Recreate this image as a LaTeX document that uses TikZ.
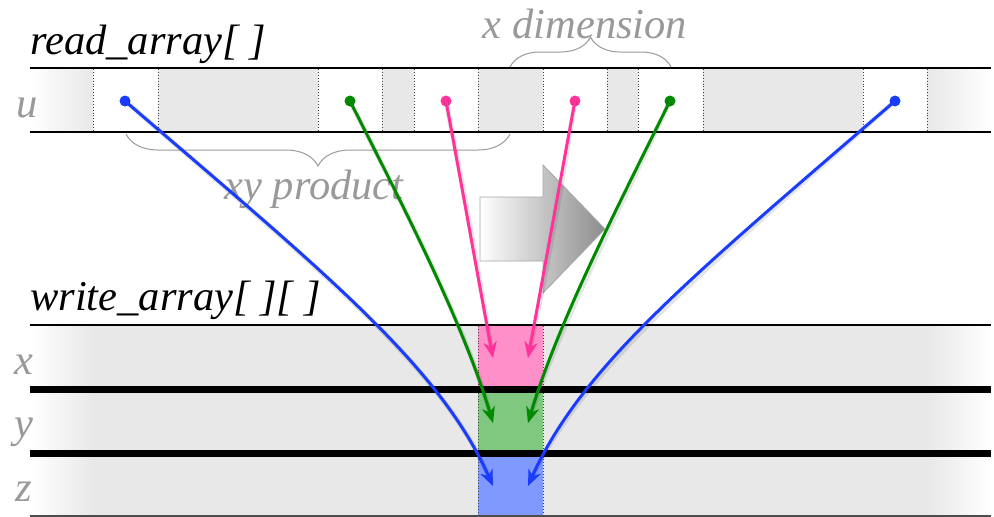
\documentclass[tikz,border=0pt]{standalone}
\usepackage{fontspec}
\setmainfont{Liberation Serif}
\usetikzlibrary{arrows.meta,decorations.pathreplacing}
\definecolor{cellgray}{HTML}{E8E8E8}
\definecolor{labelgray}{HTML}{999999}
\definecolor{cblue}{HTML}{1A3CFF}
\definecolor{cgreen}{HTML}{008A00}
\definecolor{cpink}{HTML}{FF3399}
\definecolor{fillpink}{HTML}{FF8FC8}
\definecolor{fillgreen}{HTML}{80C880}
\definecolor{fillblue}{HTML}{8099FF}
\tikzset{
  bigtitle/.style={font=\fontsize{42.5}{46}\selectfont\itshape, text=black, inner sep=0pt, anchor=base west},
  graylabel/.style={font=\fontsize{42.5}{46}\selectfont\itshape, text=labelgray, inner sep=0pt, anchor=base},
  barline/.style={line width=2.5pt, black},
  thickbar/.style={line width=7pt, black},
  celldiv/.style={dotted, line width=0.9pt, black!75},
  dotnode/.style={circle, inner sep=0pt, minimum size=11pt, fill=#1},
  flow/.style={line width=3pt, draw=#1, -{Stealth[length=16pt,width=13pt,inset=5pt]}},
  flowshadow/.style={line width=5pt, draw=black, opacity=0.10, shift={(2pt,-3pt)}, -{Stealth[length=16pt,width=13pt,inset=5pt]}},
  bracestyle/.style={draw=labelgray, line width=1pt, decorate, decoration={brace, amplitude=#1}},
}
\begin{document}
\begin{tikzpicture}[x=1pt,y=-1pt]
\useasboundingbox (0,0) rectangle (994,517);

% ---------- top array ----------
\fill[cellgray] (30,68) rectangle (991,132);
\shade[left color=white, right color=cellgray] (30,68) rectangle (93,132);
\shade[left color=cellgray, right color=white] (927,68) rectangle (991,132);
\foreach \a/\b in {93/158, 318/382, 414/478, 543/607, 638/703, 863/927}
  \fill[white] (\a,68) rectangle (\b,132);
\foreach \x in {93,158,318,382,414,478,543,607,638,703,863,927}
  \draw[celldiv] (\x,69) -- (\x,131);
\draw[barline] (30,68) -- (991,68);
\draw[barline] (30,132) -- (991,132);

% ---------- bottom array ----------
\fill[cellgray] (30,325) rectangle (991,516);
\shade[left color=white, right color=cellgray] (30,325) rectangle (93,516);
\shade[left color=cellgray, right color=white] (927,325) rectangle (991,516);
\fill[fillpink] (478,325) rectangle (543,389);
\fill[fillgreen] (478,389) rectangle (543,453);
\fill[fillblue] (478,453) rectangle (543,516);
\draw[celldiv] (478,326) -- (478,516);
\draw[celldiv] (543,326) -- (543,516);
\draw[barline] (30,325) -- (991,325);
\draw[thickbar] (30,389) -- (991,389);
\draw[thickbar] (30,453) -- (991,453);
\draw[line width=1.5pt, black!70] (30,516) -- (991,516);

% ---------- big arrow ----------
\shade[left color=white, right color=black!45, draw=black!35, line width=0.8pt]
  (480,197) -- (543,197) -- (543,165) -- (605,229) -- (543,293) -- (543,261) -- (480,261) -- cycle;

% ---------- braces ----------
\draw[bracestyle=30pt] (510,67) -- (671,67);
\draw[bracestyle=32pt] (510,134) -- (126,134);

% ---------- texts ----------
\node[bigtitle] (readt) at (30,54) {read\_array[ ]};
\node[bigtitle] (writet) at (30,310) {write\_array[ ][ ]};
\node[graylabel] (xdim) at (585,38) {x dimension};
\node[graylabel] (xyp) at (314,199) {xy product};
\node[graylabel] (lu) at (27,117) {u};
\node[graylabel] (lx) at (24,374) {x};
\node[graylabel] (ly) at (24,437) {y};
\node[graylabel] (lz) at (24,501) {z};

% ---------- dots and targets ----------
\node[dotnode=cblue] (bL) at (125,101) {};
\node[dotnode=cgreen] (gL) at (350,101) {};
\node[dotnode=cpink] (pL) at (446,101) {};
\node[dotnode=cpink] (pR) at (575,101) {};
\node[dotnode=cgreen] (gR) at (670,101) {};
\node[dotnode=cblue] (bR) at (895,101) {};
\coordinate (tp1) at (493,358);
\coordinate (tp2) at (528,358);
\coordinate (tg1) at (493,423);
\coordinate (tg2) at (528,423);
\coordinate (tb1) at (493,486);
\coordinate (tb2) at (528,486);

% ---------- flow shadows ----------
\draw[flowshadow] (bL.center) .. controls (325,273) and (439,365) .. (tb1);
\draw[flowshadow] (gL.center) .. controls (404,208) and (463,322) .. (tg1);
\draw[flowshadow] (pL.center) .. controls (462,187) and (477,272) .. (tp1);
\draw[flowshadow] (pR.center) .. controls (559,187) and (544,272) .. (tp2);
\draw[flowshadow] (gR.center) .. controls (617,208) and (558,322) .. (tg2);
\draw[flowshadow] (bR.center) .. controls (696,273) and (582,365) .. (tb2);

% ---------- flows ----------
\draw[flow=cblue] (bL.center) .. controls (325,273) and (439,365) .. (tb1);
\draw[flow=cgreen] (gL.center) .. controls (404,208) and (463,322) .. (tg1);
\draw[flow=cpink] (pL.center) .. controls (462,187) and (477,272) .. (tp1);
\draw[flow=cpink] (pR.center) .. controls (559,187) and (544,272) .. (tp2);
\draw[flow=cgreen] (gR.center) .. controls (617,208) and (558,322) .. (tg2);
\draw[flow=cblue] (bR.center) .. controls (696,273) and (582,365) .. (tb2);
\end{tikzpicture}
\end{document}
